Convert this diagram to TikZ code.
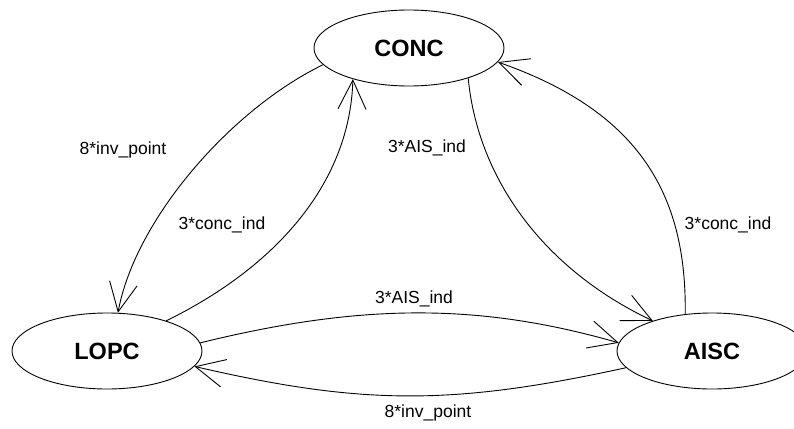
\documentclass[tikz,border=0pt]{standalone}
\usepackage{fontspec}
\setmainfont{Liberation Sans}
\usetikzlibrary{shapes.geometric,arrows.meta}
\tikzset{
  state/.style={ellipse, draw, line width=0.9pt, minimum width=190pt, minimum height=76pt, inner sep=0pt, font=\fontsize{23.5}{26}\selectfont\bfseries},
  edge/.style={draw, line width=0.9pt, -{Straight Barb[length=29pt,width=28pt,line width=0.9pt]}},
  lbl/.style={anchor=base, inner sep=0pt, font=\fontsize{17.5}{20}\selectfont}
}
\begin{document}
\begin{tikzpicture}[x=1pt,y=-1pt]
\useasboundingbox (0,0) rectangle (794,428);
\fill[white] (0,0) rectangle (794,428);
\node[state] (conc) at (409,48) {CONC};
\node[state] (lopc) at (107,351) {LOPC};
\node[state] (aisc) at (712,351) {AISC};
% CONC -> LOPC
\draw[edge] (conc.191) .. controls (230,110) and (135,220) .. (lopc.74);
% LOPC -> CONC
\draw[edge] (lopc.27) .. controls (280,265) and (350,180) .. (conc.209);
% CONC -> AISC
\draw[edge] (conc.333) .. controls (478,180) and (545,270) .. (aisc.153);
% AISC -> CONC
\draw[edge] (aisc.126) .. controls (687,190) and (635,110) .. (conc.351);
% LOPC -> AISC
\draw[edge] (lopc.5) .. controls (362,303) and (480,303) .. (aisc.175);
% AISC -> LOPC
\draw[edge] (aisc.191) .. controls (453,405.5) and (363,405.5) .. (lopc.-10.5);
\node[lbl] (l1) at (123,154) {8*inv\_point};
\node[lbl] (l2) at (222,229) {3*conc\_ind};
\node[lbl] (l3) at (427,152) {3*AIS\_ind};
\node[lbl] (l4) at (728,229) {3*conc\_ind};
\node[lbl] (l5) at (414,303) {3*AIS\_ind};
\node[lbl] (l6) at (428,417) {8*inv\_point};
\end{tikzpicture}
\end{document}
